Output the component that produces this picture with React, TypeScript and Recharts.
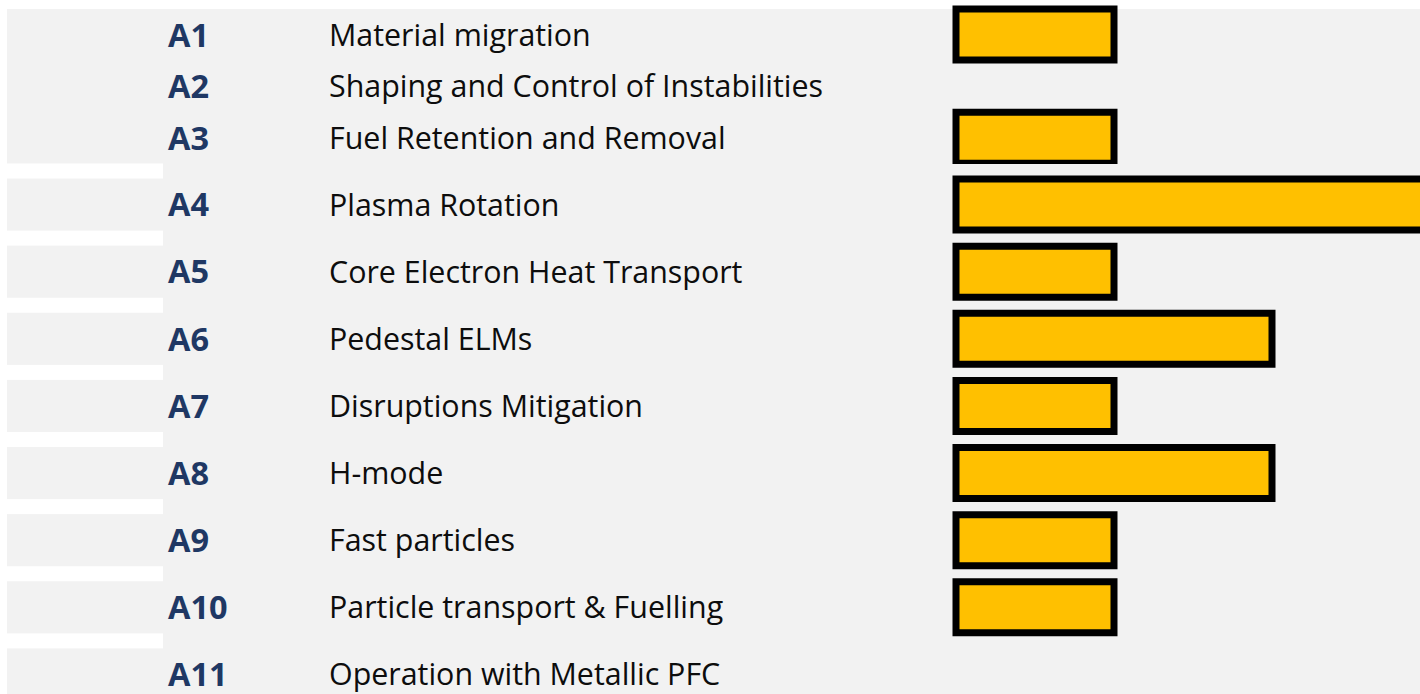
import React from 'react';
import { BarChart, Bar, XAxis, YAxis } from 'recharts';

// Top block (A1–A3) and bottom block (A4–A11) of the table
const codesTop = ['A1', 'A2', 'A3'];
const namesTop = [
  'Material migration',
  'Shaping and Control of Instabilities',
  'Fuel Retention and Removal',
];
const valuesTop = [1, 0, 1];

const codesBottom = ['A4', 'A5', 'A6', 'A7', 'A8', 'A9', 'A10', 'A11'];
const namesBottom = [
  'Plasma Rotation',
  'Core Electron Heat Transport',
  'Pedestal ELMs',
  'Disruptions Mitigation',
  'H-mode',
  'Fast particles',
  'Particle transport & Fuelling',
  'Operation with Metallic PFC',
];
const valuesBottom = [3, 1, 2, 1, 2, 1, 1, 0];

const xDomain = [0, 3];

const buildRows = (codes: string[], names: string[], values: number[]) =>
  codes.map((code, i) => ({ code, name: names[i], value: values[i] }));

const dataTop = buildRows(codesTop, namesTop, valuesTop);
const dataBottom = buildRows(codesBottom, namesBottom, valuesBottom);

const FONT = '"Open Sans", sans-serif';
const CHART_W = 1430;
const AXIS_W = 956;

const makeTick = (rows: { code: string; name: string }[], rowPitch: number | null) => (props: any) => {
  const { y, payload } = props;
  const row = rows.find((r) => r.code === payload.value);
  return (
    <g>
      {rowPitch !== null && (
        <rect x={7} y={y - rowPitch / 2 - 7.5} width={156} height={15} fill="#FFFFFF" />
      )}
      <text
        x={168}
        y={y}
        dy="0.36em"
        textAnchor="start"
        fontFamily={FONT}
        fontWeight={700}
        fontSize={32.5}
        fill="#1F3864"
      >
        {payload.value}
      </text>
      <text
        x={329}
        y={y}
        dy="0.36em"
        textAnchor="start"
        fontFamily={FONT}
        fontSize={30.4}
        fill="#0D0D0D"
      >
        {row ? row.name : ''}
      </text>
    </g>
  );
};

const TOP_PLOT_H = 155;
const BOTTOM_PLOT_H = 537;

export default function App() {
  return (
    <div
      style={{
        position: 'fixed',
        left: 0,
        top: 0,
        width: 1420,
        height: 694,
        overflow: 'hidden',
        background: '#FFFFFF',
      }}
    >
      <div
        style={{
          position: 'absolute',
          left: 7,
          top: 9,
          right: 0,
          bottom: 0,
          background: '#F2F2F2',
        }}
      />
      <div style={{ position: 'absolute', left: 0, top: 0 }}>
        <BarChart
          width={CHART_W}
          height={TOP_PLOT_H + 9}
          data={dataTop}
          layout="vertical"
          margin={{ top: 9, right: 0, bottom: 0, left: 0 }}
        >
          <XAxis type="number" domain={xDomain} hide />
          <YAxis
            type="category"
            dataKey="code"
            width={AXIS_W}
            axisLine={false}
            tickLine={false}
            interval={0}
            tick={makeTick(dataTop, null)}
          />
          <Bar
            dataKey="value"
            fill="#FFC000"
            stroke="#000000"
            strokeWidth={7}
            barSize={51}
            isAnimationActive={false}
          />
        </BarChart>
      </div>
      <div style={{ position: 'absolute', left: 0, top: 156 }}>
        <BarChart
          width={CHART_W}
          height={BOTTOM_PLOT_H + 15}
          data={dataBottom}
          layout="vertical"
          margin={{ top: 15, right: 0, bottom: 0, left: 0 }}
        >
          <XAxis type="number" domain={xDomain} hide />
          <YAxis
            type="category"
            dataKey="code"
            width={AXIS_W}
            axisLine={false}
            tickLine={false}
            interval={0}
            tick={makeTick(dataBottom, BOTTOM_PLOT_H / codesBottom.length)}
          />
          <Bar
            dataKey="value"
            fill="#FFC000"
            stroke="#000000"
            strokeWidth={7}
            barSize={51}
            isAnimationActive={false}
          />
        </BarChart>
      </div>
    </div>
  );
}
